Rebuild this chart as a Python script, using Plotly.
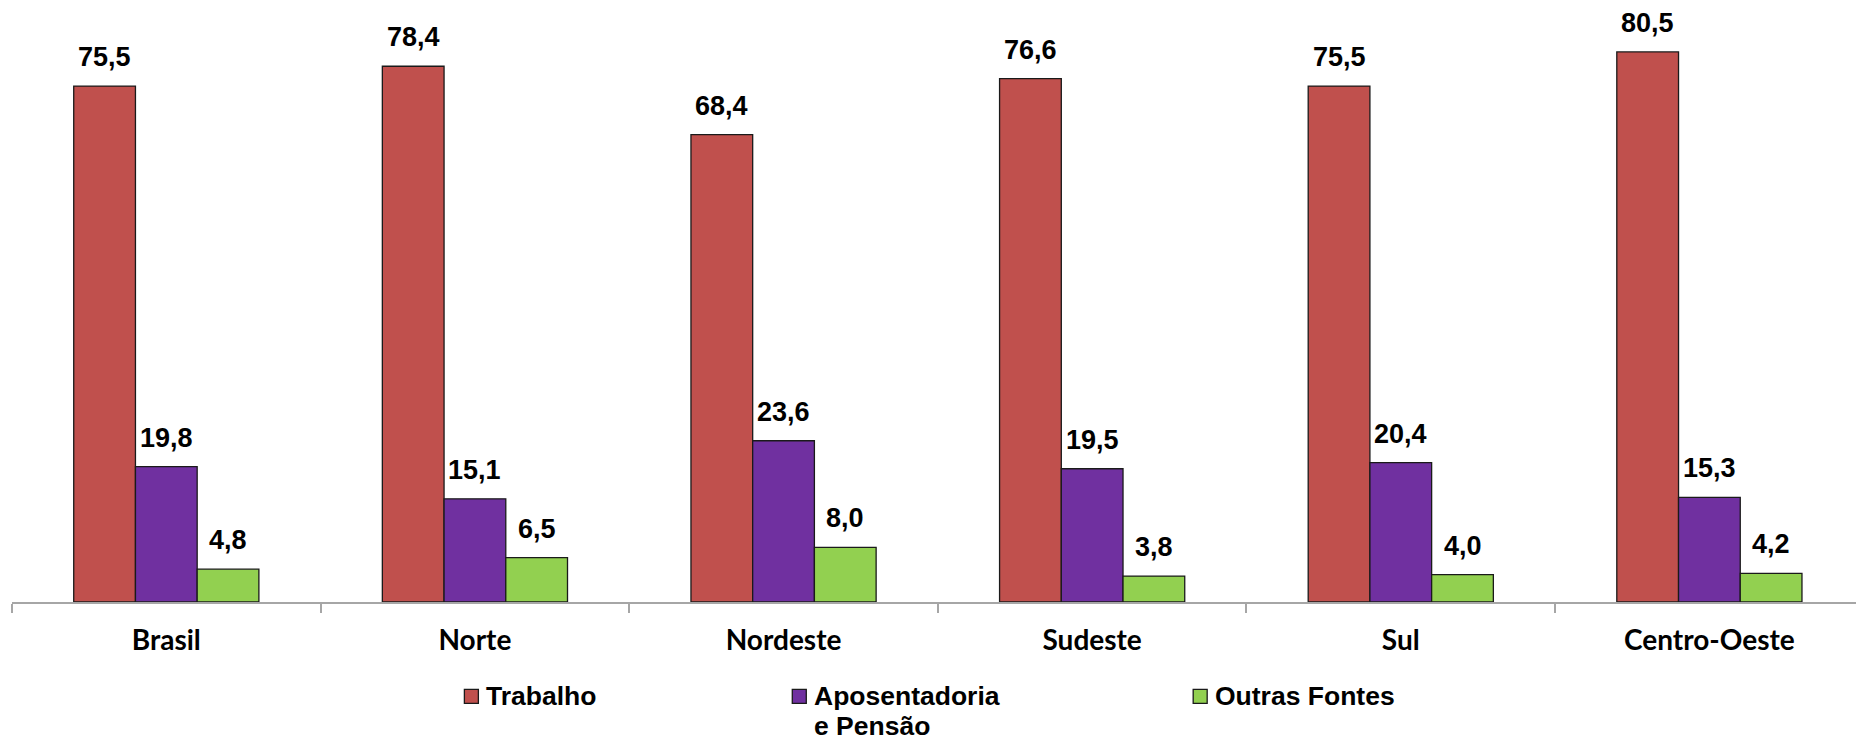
import plotly.graph_objects as go

# Regiões e composição do rendimento (%)
regioes = ["Brasil", "Norte", "Nordeste", "Sudeste", "Sul", "Centro-Oeste"]
trabalho = [75.5, 78.4, 68.4, 76.6, 75.5, 80.5]
aposentadoria = [19.8, 15.1, 23.6, 19.5, 20.4, 15.3]
outras = [4.8, 6.5, 8.0, 3.8, 4.0, 4.2]

serie_nomes = ["Trabalho", "Aposentadoria", "Outras Fontes"]
serie_cores = ["#C0504D", "#7030A0", "#92D050"]
serie_valores = [trabalho, aposentadoria, outras]

# Legenda manual: rótulos (linhas) por série
legenda_linhas = [["Trabalho"], ["Aposentadoria", "e Pensão"], ["Outras Fontes"]]
legenda_px = [464, 792, 1193]

W, H = 1856, 738
ML, MB = 11.5, 136.3
plot_w = W - ML
plot_h = H - MB
cat_w = 308.7
bar_w = cat_w * 0.6 / 3
x_max = -0.5 + plot_w / cat_w

ARIAL = "Arial, Liberation Sans"


def px_x(px):
    return (px - ML) / plot_w


def px_y(py):
    return (plot_h - py) / plot_h


fig = go.Figure()
for nome, cor, vals in zip(serie_nomes, serie_cores, serie_valores):
    fig.add_trace(go.Bar(
        x=regioes, y=vals, name=nome,
        marker=dict(color=cor, line=dict(color="#1A1A1A", width=1.3)),
        hoverinfo="skip", showlegend=False,
    ))

# Rótulos de valor acima de cada barra (vírgula decimal)
for i, vals in enumerate(serie_valores):
    for reg, v in zip(regioes, vals):
        fig.add_annotation(
            x=reg, y=v, xref="x", yref="y",
            text=f"{v:.1f}".replace(".", ","),
            showarrow=False, yanchor="bottom",
            xshift=(i - 1) * bar_w, yshift=12,
            font=dict(family=ARIAL, size=27, color="#000000", weight="bold"),
        )

# Legenda: quadrado colorido + texto
for cor, linhas, px in zip(serie_cores, legenda_linhas, legenda_px):
    fig.add_shape(
        type="rect", xref="paper", yref="paper",
        x0=px_x(px), x1=px_x(px + 14), y0=px_y(703), y1=px_y(689),
        fillcolor=cor, line=dict(color="#1A1A1A", width=1.3),
    )
    for k, linha in enumerate(linhas):
        fig.add_annotation(
            x=px_x(px + 20), y=px_y(696 + 30 * k), xref="paper", yref="paper",
            text=linha, showarrow=False, xanchor="left", yanchor="middle",
            font=dict(family=ARIAL, size=26.5, color="#000000", weight="bold"),
        )

fig.update_layout(
    width=W, height=H,
    margin=dict(l=ML, r=0, t=0, b=MB),
    paper_bgcolor="white", plot_bgcolor="white",
    barmode="group", bargap=0.4, bargroupgap=0,
    showlegend=False,
    xaxis=dict(
        range=[-0.5, x_max],
        showline=True, linecolor="#A6A6A6", linewidth=2,
        ticks="outside", tickson="boundaries", ticklen=9, tickcolor="#A6A6A6", tickwidth=2,
        tickfont=dict(family="Lato, Open Sans", size=28, color="#000000", weight="bold"),
        ticklabelstandoff=12, tickangle=0, automargin=False,
        showgrid=False, zeroline=False,
    ),
    yaxis=dict(range=[0, plot_h / 6.83], visible=False, showgrid=False, zeroline=False,
               automargin=False),
)

fig.write_html("out.html")
